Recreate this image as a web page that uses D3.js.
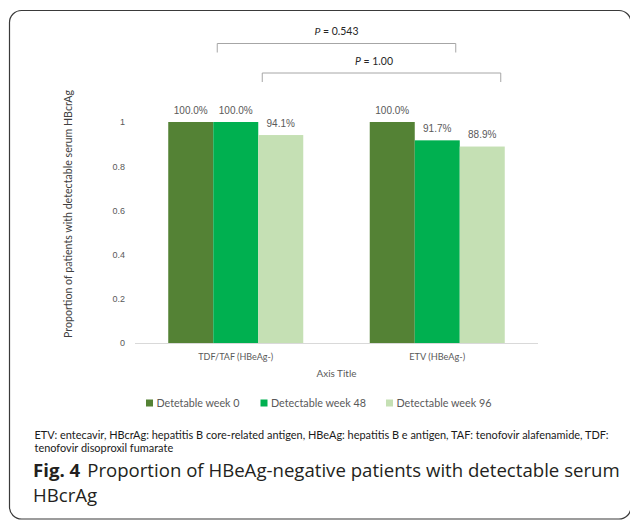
<!DOCTYPE html>
<html>
<head>
<meta charset="utf-8">
<script src="https://cdn.jsdelivr.net/npm/d3@7"></script>
<style>
  html, body { margin: 0; padding: 0; background: #fff; }
  svg { display: block; }
</style>
</head>
<body>
<svg id="chart" width="630" height="520"></svg>
<script>
// ---------------- data ----------------
const categories = ["TDF/TAF (HBeAg-)", "ETV (HBeAg-)"];
const seriesNames = ["Detetable week 0", "Detectable week 48", "Detectable week 96"];
const week0 = [1.0, 1.0];
const week48 = [1.0, 0.917];
const week96 = [0.941, 0.889];
const valueLabels = [["100.0%", "100.0%"], ["100.0%", "91.7%"], ["94.1%", "88.9%"]];
const yTicks = [0, 0.2, 0.4, 0.6, 0.8, 1];
const pBrackets = [
  { from: [0, 1], to: [1, 1], text: "0.543" },
  { from: [0, 2], to: [1, 2], text: "1.00" }
];
const yAxisTitle = "Proportion of patients with detectable serum HBcrAg";
const xAxisTitle = "Axis Title";
const footnote = ["ETV: entecavir, HBcrAg: hepatitis B core-related antigen, HBeAg: hepatitis B e antigen, TAF: tenofovir alafenamide, TDF:",
                  "tenofovir disoproxil fumarate"];
const captionBold = "Fig. 4";
const captionText = ["Proportion of HBeAg-negative patients with detectable serum", "HBcrAg"];

// --------------- styles ----------------
const colors = ["#548235", "#00B050", "#C5E0B4"];
const greyText = "#595959";
const calibri = "Lato, 'Liberation Sans', sans-serif";
const arial = "'Liberation Sans', Arial, sans-serif";

const svg = d3.select("#chart");

function fit(sel, target) {
  const node = sel.node();
  const fs = parseFloat(sel.attr("font-size"));
  const w = node.getComputedTextLength();
  if (w > 0) sel.attr("font-size", (fs * target / w).toFixed(2));
  return sel;
}

// frame
svg.append("rect")
  .attr("x", 9.5).attr("y", 10.5).attr("width", 621.5).attr("height", 508.5)
  .attr("rx", 12).attr("ry", 12)
  .attr("fill", "none").attr("stroke", "#3a3a3a").attr("stroke-width", 1.2);

// scales
const x = d3.scaleBand().domain(categories).range([135, 538]).paddingInner(0.33).paddingOuter(0.165);
const xs = d3.scaleBand().domain(seriesNames).range([0, x.bandwidth()]).padding(0);
const y = d3.scaleLinear().domain([0, 1]).range([343, 122]);

const seriesValues = [week0, week48, week96];

// bars
const g = svg.append("g");
seriesNames.forEach((s, si) => {
  categories.forEach((c, ci) => {
    const v = seriesValues[si][ci];
    g.append("rect")
      .attr("x", x(c) + xs(s))
      .attr("y", y(v))
      .attr("width", xs.bandwidth())
      .attr("height", y(0) - y(v))
      .attr("fill", colors[si]);
    g.append("text")
      .attr("x", x(c) + xs(s) + xs.bandwidth() / 2)
      .attr("y", y(v) - 8.5)
      .attr("text-anchor", "middle")
      .attr("font-family", arial)
      .attr("font-size", 10)
      .attr("fill", greyText)
      .text(valueLabels[si][ci]);
  });
});

// x axis line
svg.append("line")
  .attr("x1", x.range()[0]).attr("x2", x.range()[1])
  .attr("y1", y(0) + 0.5).attr("y2", y(0) + 0.5)
  .attr("stroke", "#D9D9D9").attr("stroke-width", 1);

// y axis ticks (labels only)
const yAxis = d3.axisLeft(y).tickValues(yTicks).tickSize(0).tickPadding(0)
  .tickFormat(d => d3.format("~g")(d));
const ya = svg.append("g").attr("transform", "translate(125,0)").call(yAxis);
ya.select(".domain").remove();
ya.selectAll("text").attr("font-family", arial).attr("font-size", 9).attr("fill", greyText);

// category labels
const xAxis = d3.axisBottom(x).tickSize(0).tickPadding(0);
const xa = svg.append("g").attr("transform", `translate(0,${y(0)})`).call(xAxis);
xa.select(".domain").remove();
xa.selectAll("text").attr("font-family", calibri).attr("font-size", 9).attr("fill", greyText)
  .attr("dy", null).attr("y", 16.5);
xa.selectAll("text").each(function () { fit(d3.select(this), this.textContent.startsWith("TDF") ? 75 : 56); });

// axis titles
fit(svg.append("text")
  .attr("x", (x.range()[0] + x.range()[1]) / 2).attr("y", 376.5)
  .attr("text-anchor", "middle").attr("font-family", calibri).attr("font-size", 10)
  .attr("fill", greyText).text(xAxisTitle), 40);

fit(svg.append("text")
  .attr("transform", "translate(71.5,214) rotate(-90)")
  .attr("text-anchor", "middle").attr("font-family", calibri).attr("font-size", 11)
  .attr("fill", "#404040").text(yAxisTitle), 248);

// p brackets
pBrackets.forEach((b, i) => {
  const x1 = x(categories[b.from[0]]) + xs(seriesNames[b.from[1]]) + 4;
  const x2 = x(categories[b.to[0]]) + xs(seriesNames[b.to[1]]) + xs.bandwidth() - 4;
  const top = [43.5, 73][i];
  const bot = top + 9;
  svg.append("path")
    .attr("d", `M${x1},${bot}V${top}H${x2}V${bot}`)
    .attr("fill", "none").attr("stroke", "#A6A6A6").attr("stroke-width", 1);
  const t = svg.append("text")
    .attr("x", (x1 + x2) / 2 + [0, -7.5][i]).attr("y", top - 8.5)
    .attr("text-anchor", "middle").attr("font-family", calibri).attr("font-size", 10)
    .attr("fill", "#262626");
  t.append("tspan").attr("font-style", "italic").text("P");
  t.append("tspan").text(" = " + b.text);
  fit(t, [44, 38][i]);
});

// legend
const legendX = [146, 260.5, 386];
const legendW = [83, 95, 95];
seriesNames.forEach((s, i) => {
  svg.append("rect").attr("x", legendX[i]).attr("y", 399.5).attr("width", 7).attr("height", 7)
    .attr("fill", colors[i]);
  fit(svg.append("text").attr("x", legendX[i] + 10.5).attr("y", 406.5)
    .attr("font-family", calibri).attr("font-size", 10).attr("fill", greyText).text(s), legendW[i]);
});

// footnote
const fn1 = svg.append("text").attr("x", 34.5).attr("y", 438.5)
  .attr("font-family", calibri).attr("font-size", 9.5).attr("fill", "#1a1a1a").text(footnote[0]);
fit(fn1, 575);
svg.append("text").attr("x", 34.5).attr("y", 452)
  .attr("font-family", calibri).attr("font-size", fn1.attr("font-size")).attr("fill", "#1a1a1a").text(footnote[1]);

// caption
const cap = svg.append("text").attr("x", 33).attr("y", 477)
  .attr("font-family", "'Open Sans', sans-serif").attr("font-size", 19).attr("fill", "#231f20");
cap.append("tspan").attr("font-weight", "bold").text(captionBold);
cap.append("tspan").attr("dx", 7).text(captionText[0]);
fit(cap, 580);
svg.append("text").attr("x", 33).attr("y", 502)
  .attr("font-family", "'Open Sans', sans-serif").attr("font-size", cap.attr("font-size"))
  .attr("fill", "#231f20").text(captionText[1]);
</script>
</body>
</html>
